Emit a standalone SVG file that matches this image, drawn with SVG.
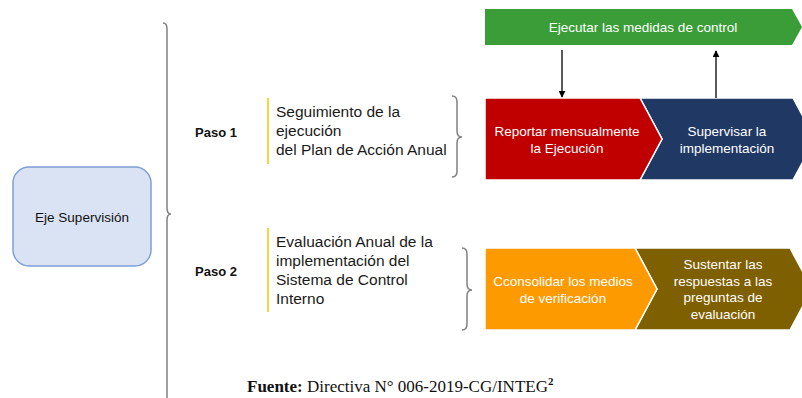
<svg xmlns="http://www.w3.org/2000/svg" width="802" height="398" viewBox="0 0 802 398">
<style>
.w{font-family:"Liberation Sans",Arial,sans-serif;font-size:13.5px;fill:#ffffff;text-anchor:middle}
.d{font-family:"Liberation Sans",Arial,sans-serif;font-size:15.5px;fill:#1a1a1a}
.p{font-family:"Liberation Sans",Arial,sans-serif;font-size:13px;font-weight:bold;fill:#111}
.br{fill:none;stroke:#808080;stroke-width:1.5}
.yl{stroke:#ffc000;stroke-width:1.5}
.ch{stroke:#ffffff;stroke-width:1.5}
.ar{stroke:#000;stroke-width:1.3;fill:none}
</style>
<defs>
<marker id="ah" viewBox="0 0 10 10" refX="9" refY="5" markerWidth="7" markerHeight="7" markerUnits="userSpaceOnUse" orient="auto">
<path d="M0,0 L10,5 L0,10 Z" fill="#000"/>
</marker>
</defs>
<rect width="802" height="398" fill="#ffffff"/>

<g id="eje">
<rect x="13" y="167" width="138" height="99" rx="16" fill="#dae3f3" stroke="#7f9fd5" stroke-width="1.5"/>
<text x="82" y="222" style="font-family:'Liberation Sans',Arial,sans-serif;font-size:13.5px;fill:#111;text-anchor:middle">Eje Supervisión</text>
</g>

<g id="brace-main">
<path class="br" d="M163,23 Q167,23 167,29 V208 Q167,214 171,214 Q167,214 167,220 V400"/>
</g>

<g id="paso1">
<text class="p" x="195" y="137">Paso 1</text>
<line class="yl" x1="268" y1="98" x2="268" y2="164"/>
<text class="d" x="276" y="117">Seguimiento de la</text>
<text class="d" x="276" y="136">ejecución</text>
<text class="d" x="276" y="155">del Plan de Acción Anual</text>
<path class="br" d="M452,96 Q457,96 457,102 V131 Q457,137 462,137 Q457,137 457,143 V171 Q457,177 452,177"/>
</g>

<g id="paso2">
<text class="p" x="195" y="276">Paso 2</text>
<line class="yl" x1="268" y1="228" x2="268" y2="312"/>
<text class="d" x="276" y="247">Evaluación Anual de la</text>
<text class="d" x="276" y="266">implementación del</text>
<text class="d" x="276" y="285">Sistema de Control</text>
<text class="d" x="276" y="304">Interno</text>
<path class="br" d="M462,248 Q467,248 467,254 V284 Q467,290 472,290 Q467,290 467,296 V324 Q467,330 462,330"/>
</g>

<g id="ejecutar">
<path d="M485,9 H792 L802,27 L792,45 H485 Z" fill="#3a9d37"/>
<text class="w" x="643" y="32">Ejecutar las medidas de control</text>
</g>

<g id="supervisar">
<path class="ch" d="M640,98 H793 L815,139 L793,180 H640 L662,139 Z" fill="#203864"/>
<text class="w" x="727" y="136">Supervisar la</text>
<text class="w" x="727" y="153">implementación</text>
</g>

<g id="reportar">
<path class="ch" d="M485,98 H640 L662,139 L640,180 H485 Z" fill="#c00000" stroke-linejoin="miter"/>
<text class="w" x="567" y="136">Reportar mensualmente</text>
<text class="w" x="567" y="153">la Ejecución</text>
</g>

<g id="sustentar">
<path class="ch" d="M635,248 H790 L812,289 L790,330 H635 L657,289 Z" fill="#7f6000"/>
<text class="w" x="723" y="269">Sustentar las</text>
<text class="w" x="723" y="285.5">respuestas a las</text>
<text class="w" x="723" y="302">preguntas de</text>
<text class="w" x="723" y="318.5">evaluación</text>
</g>

<g id="consolidar">
<path class="ch" d="M485,248 H635 L657,289 L635,330 H485 Z" fill="#fd9a00"/>
<text class="w" x="563" y="286">Cconsolidar los medios</text>
<text class="w" x="563" y="303">de verificación</text>
</g>

<g id="connectors">
<line class="ar" x1="562" y1="50" x2="562" y2="97" marker-end="url(#ah)"/>
<line class="ar" x1="716" y1="98" x2="716" y2="51" marker-end="url(#ah)"/>
</g>

<g id="fuente">
<text x="247" y="392" style="font-family:'Liberation Serif','Times New Roman',serif;font-size:17px;fill:#111"><tspan font-weight="bold">Fuente:</tspan> Directiva N° 006-2019-CG/INTEG<tspan font-weight="bold" font-size="11px" dy="-7">2</tspan></text>
</g>
</svg>
